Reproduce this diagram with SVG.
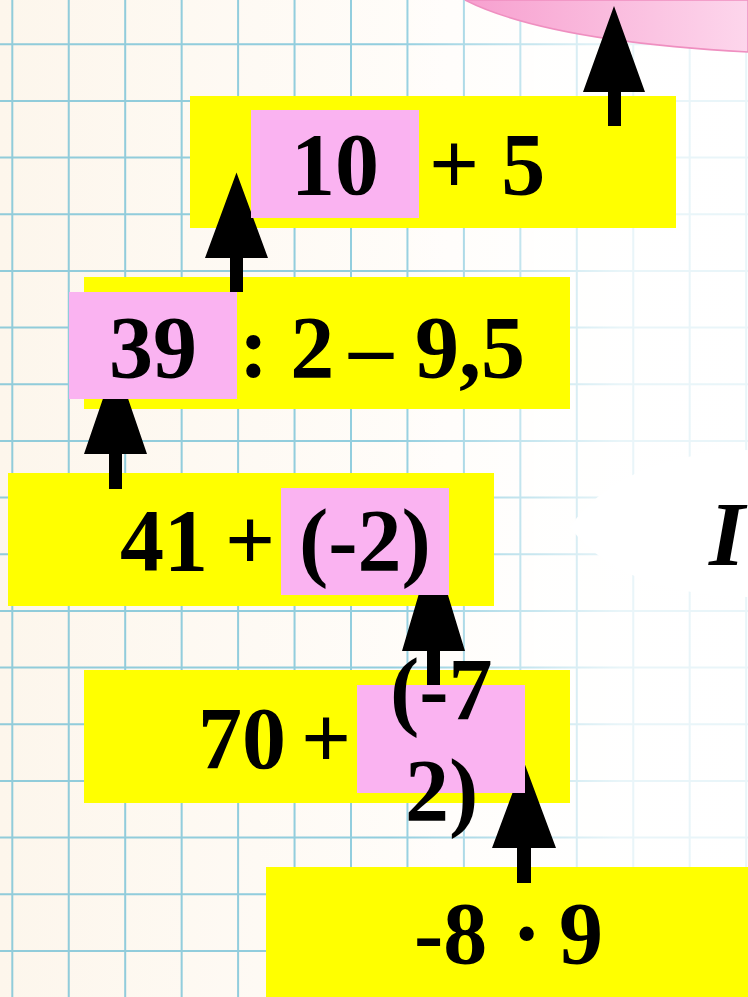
<svg xmlns="http://www.w3.org/2000/svg" width="748" height="997" viewBox="0 0 748 997">
  <style>
    .yb { fill: #ffff00; }
    .pk { fill: #fab3f1; }
    .tx { font-family: "Liberation Serif", "Times New Roman", serif; font-weight: bold; font-size: 88px; fill: #000; }
    .grid { stroke: #4fb2cf; stroke-width: 2; stroke-opacity: 0.62; fill: none; }
    .arrow { fill: #000; }
  </style>
  <defs>
    <linearGradient id="bg" x1="0" y1="0" x2="748" y2="0" gradientUnits="userSpaceOnUse">
      <stop offset="0" stop-color="#fdf6ec"/>
      <stop offset="0.6" stop-color="#fffdfa"/>
      <stop offset="1" stop-color="#ffffff"/>
    </linearGradient>
    <linearGradient id="fade" x1="390" y1="0" x2="620" y2="0" gradientUnits="userSpaceOnUse">
      <stop offset="0" stop-color="#ffffff" stop-opacity="0"/>
      <stop offset="1" stop-color="#ffffff" stop-opacity="0.8"/>
    </linearGradient>
    <linearGradient id="blob" x1="465" y1="0" x2="748" y2="0" gradientUnits="userSpaceOnUse">
      <stop offset="0" stop-color="#f7a0cf"/>
      <stop offset="1" stop-color="#fdd6ec"/>
    </linearGradient>
    <clipPath id="notPink">
      <path clip-rule="evenodd" d="M0 0H748V997H0Z M251 110H419V218H251Z M69 292H237V399H69Z M281 488H449V595H281Z M357 685H525V793H357Z"/>
    </clipPath>
  </defs>

  <g id="background">
    <rect x="0" y="0" width="748" height="997" fill="url(#bg)"/>
    <path class="grid" d="M12.3 0V997 M68.75 0V997 M125.2 0V997 M181.65 0V997 M238.1 0V997 M294.55 0V997 M351 0V997 M407.45 0V997 M463.9 0V997 M520.35 0V997 M576.8 0V997 M633.25 0V997 M689.7 0V997 M746.15 0V997
      M0 44.3H748 M0 101H748 M0 157.6H748 M0 214.3H748 M0 271H748 M0 327.6H748 M0 384.3H748 M0 441H748 M0 497.6H748 M0 554.3H748 M0 611H748 M0 667.6H748 M0 724.3H748 M0 781H748 M0 837.6H748 M0 894.3H748 M0 951H748"/>
    <rect x="0" y="0" width="748" height="997" fill="url(#fade)"/>
    <path d="M465 0 C520 28 620 45 748 52 L748 0 Z" fill="url(#blob)" stroke="#ef8fc0" stroke-width="1.5"/>
    <path d="M570 527 C605 475 675 452 748 450 L748 597 C675 595 608 578 570 527 Z" fill="#ffffff"/>
    <text x="709" y="565" font-family="Liberation Serif, Times New Roman, serif" font-weight="bold" font-style="italic" font-size="92" fill="#000">I</text>
  </g>

  <g id="node-10-plus-5">
    <rect class="yb" x="190" y="96" width="486" height="132"/>
    <rect class="pk" x="251" y="110" width="168" height="108"/>
    <text class="tx" y="194"><tspan x="291">10</tspan><tspan x="429">+ 5</tspan></text>
  </g>

  <g id="node-39-div-2-minus-9-5">
    <rect class="yb" x="84" y="277" width="486" height="132"/>
    <rect class="pk" x="69" y="292" width="168" height="107"/>
    <text class="tx" y="377"><tspan x="109">39</tspan><tspan x="239">: 2</tspan><tspan x="349">– 9,5</tspan></text>
  </g>

  <g id="node-41-plus-minus-2">
    <rect class="yb" x="8" y="473" width="486" height="133"/>
    <rect class="pk" x="281" y="488" width="168" height="107"/>
    <text class="tx" y="570"><tspan x="120">41</tspan><tspan x="225">+</tspan><tspan x="299">(-2)</tspan></text>
  </g>

  <g id="node-70-plus-minus-72">
    <rect class="yb" x="84" y="670" width="486" height="133"/>
    <rect class="pk" x="357" y="685" width="168" height="108"/>
    <text class="tx"><tspan x="198" y="768">70</tspan><tspan x="301" y="768">+</tspan><tspan x="390" y="719">(-7</tspan><tspan x="405" y="820">2)</tspan></text>
  </g>

  <g id="node-minus-8-times-9">
    <rect class="yb" x="266" y="867" width="490" height="135"/>
    <text class="tx" y="963"><tspan x="414">-8</tspan><tspan x="512">·</tspan><tspan x="559">9</tspan></text>
  </g>

  <g id="connectors" clip-path="url(#notPink)">
    <polygon class="arrow" points="614,6 645,92 621,92 621,126 608,126 608,92 583,92"/>
    <polygon class="arrow" points="236.5,172.5 268,258 243,258 243,292 230,292 230,258 205,258"/>
    <polygon class="arrow" points="115.5,362 147,454 122,454 122,489 109,489 109,454 84,454"/>
    <polygon class="arrow" points="433,546 465,651 440,651 440,685 427,685 427,651 402,651"/>
    <polygon class="arrow" points="524,762 556,848 531,848 531,883 517,883 517,848 492,848"/>
  </g>
</svg>
